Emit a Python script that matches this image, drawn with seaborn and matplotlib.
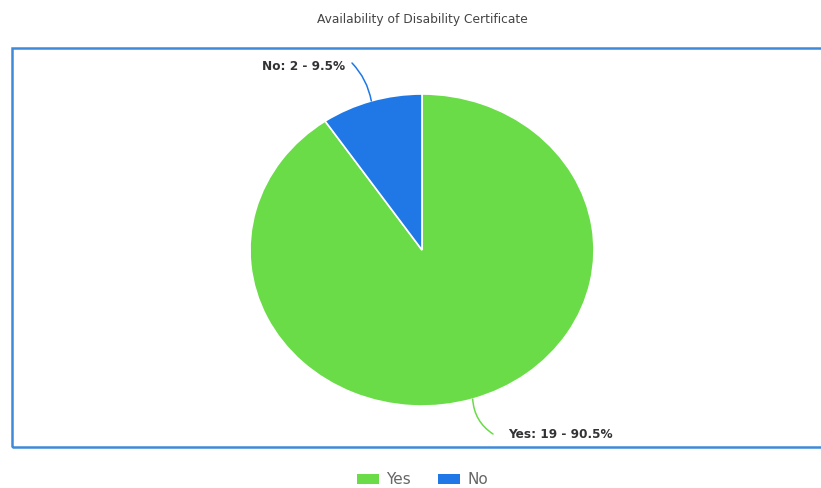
import numpy as np
import seaborn as sns
import matplotlib.pyplot as plt
from matplotlib.patches import Patch, Rectangle


# -----------------------------
# DATA
# -----------------------------
categories = ["Yes", "No"]
counts = [19, 2]
colors = ["#69dc48", "#1f78e6"]
title = "Availability of Disability Certificate"

sns.set_theme(style="white")
plt.rcParams["font.family"] = ["DejaVu Sans"]

# -----------------------------
# FIGURE (pixel based layout)
# -----------------------------
W, H = 821, 488
fig = plt.figure(figsize=(W / 100, H / 100), dpi=100)
fig.patch.set_facecolor("white")

# blue frame round the plot area (runs off the right edge)
frame = Rectangle((12 / W, 1 - 447 / H), (840 - 12) / W, (447 - 48) / H,
                  transform=fig.transFigure, fill=False,
                  edgecolor="#3f8ad8", linewidth=1.8, clip_on=False)
fig.patches.append(frame)

fig.text(422.5 / W, 1 - 19 / H, title, ha="center", va="center",
         fontsize=8.8, color="#444444")

# pie axis: centre (422, 250), rx 172, ry 156 -> slightly wide ellipse
cx, cy, rx, ry = 422, 250, 172, 156
ax = fig.add_axes([(cx - rx) / W, 1 - (cy + ry) / H, 2 * rx / W, 2 * ry / H])
wedges, _ = ax.pie(counts, colors=colors, startangle=90, counterclock=False,
                   wedgeprops=dict(edgecolor="white", linewidth=1.2))
ax.set_aspect("auto")
ax.set_xlim(-1, 1)
ax.set_ylim(-1, 1)
ax.axis("off")

# -----------------------------
# LABELS WITH LEADER LINES
# -----------------------------
total = sum(counts)
label_pos = {"Yes": ((508, 435), (493, 434), -0.25),
             "No": ((262, 66), (352, 63), -0.15)}
for w, cat, n, col in zip(wedges, categories, counts, colors):
    mid = np.deg2rad((w.theta1 + w.theta2) / 2)
    (tx, ty), (lx, ly), rad = label_pos[cat]
    ax.annotate("", xy=(np.cos(mid), np.sin(mid)), xycoords="data",
                xytext=(lx, H - ly), textcoords="figure pixels",
                arrowprops=dict(arrowstyle="-", color=col, lw=1.1,
                                connectionstyle=f"arc3,rad={rad}",
                                shrinkA=0, shrinkB=0))
    fig.text(tx / W, 1 - ty / H, f"{cat}: {n} - {n / total * 100:.1f}%",
             ha="left", va="center", fontsize=8.7, fontweight="bold",
             color="#333333")

# -----------------------------
# LEGEND
# -----------------------------
handles = [Patch(facecolor=c, edgecolor="none", label=l)
           for l, c in zip(categories, colors)]
fig.legend(handles=handles, loc="center", bbox_to_anchor=(422.5 / W, 1 - 480 / H),
           ncol=2, frameon=False, fontsize=11, labelcolor="#666666",
           handlelength=1.45, handleheight=0.6, handletextpad=0.45,
           columnspacing=1.8)

fig.savefig("out.png", dpi=100)
